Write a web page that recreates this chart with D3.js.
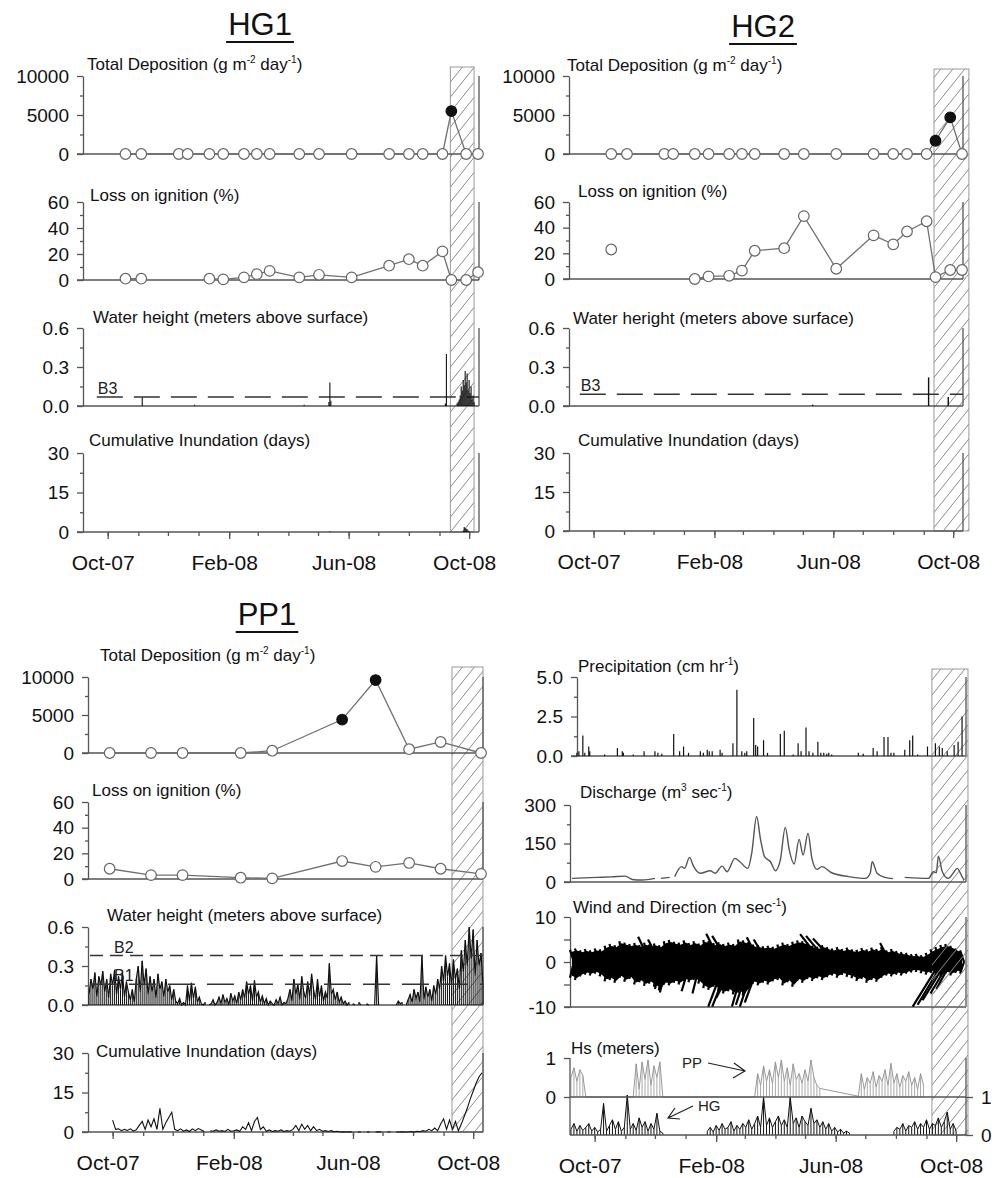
<!DOCTYPE html>
<html>
<head>
<meta charset="utf-8">
<script src="https://cdn.jsdelivr.net/npm/d3@7"></script>
<style>
body { margin: 0; background: #fff; }
svg { font-family: "Liberation Sans", Arial, Helvetica, sans-serif; }
</style>
</head>
<body>
<svg id="svg" width="1002" height="1178"></svg>
<script>
// Record runs from 6 Sep 2007 to 11 Oct 2008, dense series are given as days since START
const START = new Date(2007, 8, 6);
const END = new Date(2008, 9, 11);

// Sediment trap sampling (HG sites)
const hgSampleDates = ['2007-10-19', '2007-11-04', '2007-12-12', '2007-12-21', '2008-01-12', '2008-01-26',
  '2008-02-16', '2008-02-29', '2008-03-13', '2008-04-12', '2008-05-02', '2008-06-04', '2008-07-12',
  '2008-08-01', '2008-08-15', '2008-09-04', '2008-09-13', '2008-09-28', '2008-10-10'];
const hg1Deposition = [0, 0, 0, 0, 0, 0, 0, 0, 0, 0, 0, 0, 0, 0, 0, 0, 5500, 0, 0];
const hg1Loi = [1, 1, null, null, 1, 0.5, 2, 4.5, 7, 2, 4, 2, 11, 16, 11, 22, 0, 0, 6];
const hg1Event = [16];
const hg2Deposition = [0, 0, 0, 0, 0, 0, 0, 0, 0, 0, 0, 0, 0, 0, 0, 0, 1700, 4700, 0];
const hg2Loi = [23, null, null, null, 0, 2, 2.5, 6.5, 22, 24, 49, 8, 34, 27, 37, 45, 1.5, 7, 7];
const hg2Event = [16, 17];

// PP1 sampling
const ppSampleDates = ['2007-09-28', '2007-11-09', '2007-12-11', '2008-02-08', '2008-03-11',
  '2008-05-21', '2008-06-24', '2008-07-28', '2008-08-29', '2008-10-09'];
const pp1Deposition = [0, 0, 0, 0, 300, 4400, 9600, 500, 1450, 0];
const pp1Loi = [8, 3, 3, 1, 0.5, 14, 9.5, 12.5, 8, 4];
const pp1Event = [5, 6];

// benchmark elevations (m)
const hg1Bench = [{name: 'B3', value: 0.07, dash: '26,11'}];
const hg2Bench = [{name: 'B3', value: 0.09, dash: '26,11'}];
const pp1Bench = [{name: 'B2', value: 0.38, dash: '13,7'}, {name: 'B1', value: 0.16, dash: '27,12'}];

// sparse water height / inundation at HG
const hg1WaterDay = [60, 113, 224, 249, 250, 251, 367, 368, 379, 380, 381, 382, 383, 384, 385, 386, 387,
  388, 389, 390, 391, 392, 393, 394, 395, 396];
const hg1WaterVal = [0.065, 0.01, 0.01, 0.03, 0.18, 0.04, 0.02, 0.40, 0.02, 0.03, 0.05, 0.08, 0.15, 0.12,
  0.2, 0.16, 0.27, 0.18, 0.25, 0.12, 0.2, 0.1, 0.15, 0.05, 0.08, 0.03];
const hg1InundDay = [250, 385, 386, 387, 388, 389, 390, 391];
const hg1InundVal = [0.3, 0.5, 1.9, 1.5, 1.2, 1.0, 0.6, 0.3];
const hg2WaterDay = [248, 366, 386];
const hg2WaterVal = [0.01, 0.22, 0.07];

// PP1 water height, every 2 days from day 1
const pp1Water = [0.08, 0.2, 0.12, 0.25, 0.06, 0.22, 0.15, 0.26, 0.1,
  0.2, 0.05, 0.24, 0.15, 0.27, 0.08, 0.22, 0.12, 0.25, 0.06, 0.18, 0.1,
  0.04, 0.12, 0.02,
  0.2, 0.3, 0.1, 0.34, 0.15, 0.28, 0.08,
  0.22, 0.1, 0.2, 0.05, 0.24, 0.12, 0.18, 0.06, 0.2, 0.1, 0.15, 0.04, 0.12, 0.03,
  0.01, 0.05, 0.0, 0.02, 0.0,
  0.15, 0.03, 0.17, 0.05, 0.14, 0.02, 0.06,
  0.01, 0.0, 0.02, null, 0.0, 0.01, 0.04, 0.0, 0.02,
  0.06, 0.01, 0.08, 0.02, 0.05, 0.0, 0.09, 0.03, 0.07, 0.01, 0.1, 0.04, 0.12,
  0.05, 0.18, 0.08, 0.15, 0.03, 0.19, 0.06, 0.1,
  0.02, 0.07, 0.01, 0.05, 0.0, 0.03, 0.01, 0.0, 0.04, 0.01, 0.06, 0.0, 0.02, 0.01, 0.05,
  0.12, 0.03, 0.2, 0.08, 0.16, 0.04, 0.22, 0.1, 0.05, 0.18, 0.07, 0.24, 0.12, 0.04, 0.2, 0.06, 0.15, 0.03, 0.1,
  0.05, 0.32, 0.08, 0.12, 0.04, 0.1, 0.02, 0.06, 0.01, 0.03,
  0.0, 0.02, null, 0.01, 0.0, null, 0.02, 0.0, null, null, 0.01, 0.0, null, null,
  0.0, 0.38, 0.0,
  null, null, null, null, null, null, null, null,
  0.0, 0.03, 0.01, 0.02, null, 0.0, 0.04,
  0.08, 0.02, 0.12, 0.05, 0.1, 0.02, 0.38, 0.04,
  0.14, 0.06, 0.12, 0.03, 0.15, 0.08, 0.2, 0.12,
  0.3, 0.18, 0.38, 0.22, 0.32, 0.15,
  0.35, 0.2, 0.28, 0.12, 0.42, 0.25, 0.5, 0.3, 0.6, 0.35, 0.58, 0.22, 0.5, 0.3, 0.4, 0.15];

// PP1 cumulative inundation, every 3 days from day 1
const pp1Inund = [null, null, null, null, null, null, null, null,
  4.5, 1, 1.2, 0.5, 1, 0.6, 1.2, 0.4, 0.8, 2.5, 4, 1, 4.5, 2, 5, 1, 9, 1, 3.5, 5.5, 7.5, 1,
  0.5, 1.2, 0.3, 0.8, 0.2, 1.2, 0.5, 1.3, 0.8, 0.2,
  null, 0.5, 0.3, 0.8, 0.3, 0.5, 0.2, 1, 0.3, 0.5, 0.8, 0.3,
  2, 1, 3.5, 0.5, 4, 5.5, 1, 2, 0.3, 0.8, 0.2,
  0.5, 0.3, 0.8, 0.2, 0.5, 0.3, 1, 2.5, 0.5, 3, 1, 2.5, 0.5, 2, 0.5, 1, 0.3, 0.5, 0.2, 0.5, 0.1, 0.3,
  0, 0.1, 0, 0.1, 0, null, 0, 0, null, 0, 0, null, 0, 0.1, 0, null, 0, 0.1, null, 0, 0, 0.1, 0, 0, 0.2, 0, 0.3, 0.1,
  0.5, 0.3, 1, 0.5, 1.5, 0.5, 3, 5, 1, 4.5, 1, 4, 0.5, 3, 6, 9, 12.5, 15.5, 18.5, 21, 22.5];

// Precipitation bars
const precipDay = [7, 9, 13, 15, 19, 20, 35, 48, 53, 54, 64, 75, 86, 89, 93, 105, 111, 115, 120, 132, 135,
  139, 141, 144, 152, 154, 165, 169, 174, 177, 179, 186, 188, 190, 196, 200, 213, 217, 226, 231, 234,
  239, 242, 246, 251, 254, 257, 260, 262, 265, 292, 297, 307, 311, 318, 322, 325, 328, 339, 344, 347,
  352, 362, 370, 374, 377, 382, 389, 393, 397];
const precipVal = [0.2, 0.3, 1.3, 0.2, 0.6, 0.3, 0.1, 0.5, 0.3, 0.2, 0.1, 0.3, 0.3, 0.2, 0.15, 1.4, 0.3, 0.6,
  0.2, 0.3, 0.2, 0.4, 0.3, 0.3, 0.4, 0.2, 0.8, 4.2, 0.3, 0.2, 0.3, 2.4, 0.7, 0.6, 1.0, 0.2, 1.4, 1.6, 0.1,
  0.8, 0.3, 1.8, 0.3, 0.2, 0.9, 0.2, 0.2, 0.15, 0.2, 0.1, 0.2, 0.15, 0.5, 0.3, 1.2, 1.2, 0.2, 0.2, 0.4,
  1.0, 1.3, 0.1, 0.6, 0.8, 0.6, 0.5, 0.3, 0.7, 0.9, 2.5];

// Discharge
const dischargeDay = [2, 15, 28, 42, 56, 63, 73, 86, 89, 92, 101, 104, 106, 113, 116, 121, 125, 132, 142,
  147, 154, 159, 167, 172, 180, 184, 189, 193, 197, 203, 208, 213, 218, 222, 227, 232, 236, 241, 245,
  250, 255, 265, 282, 299, 304, 306, 311, 319, 327, 333, 339, 363, 368, 371, 373, 377, 383, 388, 392,
  397, 399];
const dischargeVal = [14, 16, 18, 20, 23, 10, 8, 14, null, 14, 18, null, 21, 60, 53, 96, 62, 34, 44, 34,
  62, 40, 92, 79, 53, 112, 255, 164, 99, 79, 44, 86, 213, 125, 70, 166, 105, 190, 92, 49, 60, 36, 21,
  14, 34, 79, 34, 18, 13, null, 18, 14, 40, 36, 101, 40, 14, 34, 53, 21, 8];

// Wind envelope, every 5 days from day 2
const windHi = [2.7, 3.0, 2.6, 2.9, 2.6, 3.0, 2.8, 3.6, 4.0, 3.7,
  4.6, 4.3, 4.0, 4.2, 3.8, 4.3, 3.9, 4.1, 3.7, 4.6,
  4.9, 4.5, 4.3, 4.8, 4.2, 4.6, 4.1, 4.9, 4.6, 4.2,
  4.4, 4.0, 4.3, 4.0, 5.0, 4.8, 4.4, 3.9, 3.7, 3.5,
  3.6, 3.4, 3.9, 4.3, 4.0, 4.5, 4.8, 4.6, 4.2, 3.6,
  3.4, 3.7, 3.3, 3.0, 3.3, 2.9, 3.2, 2.8, 2.7, 3.1,
  2.8, 3.2, 2.9, 3.3, 2.6, 2.9, 2.4, 2.2, 2.0, 1.7,
  1.8, 1.5, 2.0, 2.8, 3.3, 3.8, 4.0, 3.6, 3.0, 2.6];
const windLo = [-3.5, -4.0, -3.2, -2.8, -3.0, -2.6, -3.2, -4.3, -4.0, -4.6,
  -3.5, -4.4, -3.8, -5.0, -4.5, -5.3, -4.8, -5.5, -6.3, -5.0,
  -5.2, -4.6, -5.0, -4.2, -4.5, -4.0, -4.8, -5.8, -6.2, -5.5,
  -6.6, -7.0, -6.5, -7.2, -6.8, -7.5, -6.0, -4.8, -5.2, -4.6,
  -5.0, -4.3, -4.0, -5.2, -4.5, -5.5, -4.2, -4.6, -3.8, -4.2,
  -3.6, -4.0, -3.4, -3.0, -3.5, -2.9, -3.3, -3.6, -4.2, -3.8,
  -4.6, -4.0, -4.4, -3.5, -3.0, -3.2, -2.8, -3.0, -2.6, -2.3,
  -2.2, -2.5, -2.8, -2.4, -2.8, -3.2, -2.6, -3.0, -2.4, -2.6];
// strong wind vectors: [day, lag in days of the stick tip, speed]
const windGusts = [[157, -17, -9.9], [162, -18, -9.9], [167, -19, -8], [177, -13, -9.9], [182, -14, -9.5],
  [187, -15, -9.9], [192, -15, -9], [93, -7, -6], [99, -8, -6.8], [122, -9, -6.5], [132, -8, -7],
  [375, -28, -9.9], [378, -26, -9.5], [381, -24, -8.5], [384, -19, -7], [386, -15, -6],
  [81, -12, 5.6], [91, -12, 5], [152, -14, 6.3], [160, -16, 5.8], [192, -13, 5.5], [200, -14, 5],
  [255, -22, 6.2], [261, -22, 5.8], [268, -22, 5.2], [324, -10, 4.2]];

// Significant wave height, every 3 days from day 1
const hsPP = [0.5, 0.75, 0.4, 0.7, 0.55, 0.0,
  null, null, null, null, null, null, null, null, null, null, null, null, null, null, null,
  0.0, 0.85, 0.2, 0.9, 0.45, 0.95, 0.3, 0.8, 0.5, 0.9, 0.0,
  null, null, null, null, null, null, null, null, null, null, null, null, null, null, null,
  null, null, null, null, null, null, null, null, null, null, null, null, null, null, null,
  0.0, 0.6, 0.3, 0.8, 0.4, 0.7, 0.35, 0.9, 0.5, 0.95, 0.4, 0.75, 0.3, 0.85, 0.45, 0.6, 0.35, 0.7, 0.4, 0.95, 0.5, 0.3, 0.22,
  null, null, null, null, null, null, null, null, null, null, null, null,
  0.02, 0.6, 0.2, 0.5, 0.35, 0.65, 0.25, 0.55, 0.4, 0.7, 0.3, 0.86, 0.35, 0.6, 0.25, 0.55, 0.4, 0.65, 0.3, 0.5, 0.2, 0.6, 0.3,
  null, null, null, null, null, null, null, null, null, null, null, null, null, null];
const hsHG = [0.15, 0.3, 0.1, 0.25, 0.12, 0.2, 0.3, 0.1, 0.2, 0.08, 0.15, 0.83, 0.1, 0.25, 0.4, 0.15,
  0.35, 0.1, 0.2, 1.05, 0.15, 0.3, 0.12, 0.45, 0.2, 0.35, 0.1, 0.3, 0.15, 0.57, 0.1, 0.05,
  null, null, null, null, null, null, null, null, null, null, null, null, null, null,
  0.1, 0.2, 0.08, 0.25, 0.12, 0.3, 0.15, 0.2, 0.35, 0.1, 0.25, 0.15, 0.3, 0.2, 0.4, 0.15, 0.3, 0.5, 0.2, 1.0,
  0.25, 0.45, 0.2, 0.35, 0.5, 0.25, 0.4, 0.2, 1.0, 0.3, 0.45, 0.2, 0.5, 0.35, 0.25, 0.7, 0.3, 0.4, 0.2, 0.35,
  0.15, 0.3, 0.1, 0.2, 0.08, 0.15, 0.05, 0.1, 0.05,
  null, null, null, null, null, null, null, null, null, null, null, null, null, null,
  0.1, 0.2, 0.15, 0.3, 0.1, 0.25, 0.2, 0.35, 0.15, 0.3, 0.2, 0.4, 0.15, 0.3, 0.25, 0.45, 0.2, 0.35, 0.6, 0.15, 0.3, 0.1,
  null, null, null];

// storm period shaded on each figure (days since START)
const hg1Storm = [372, 396];
const hg2Storm = [371.5, 407];
const pp1Storm = [369.5, 401];
const metStorm = [366.5, 403];

const monthTicks = d3.timeMonth.range(START, END);
const labelMonths = [new Date(2007, 9, 1), new Date(2008, 1, 1), new Date(2008, 5, 1), new Date(2008, 9, 1)];

// ---------- drawing ----------
const svg = d3.select('#svg');
const AXIS = '#555';
const parse = d3.timeParse('%Y-%m-%d');
const dayToDate = d => new Date(START.getTime() + d * 864e5);

const pat = svg.append('defs').append('pattern')
  .attr('id', 'hatch').attr('patternUnits', 'userSpaceOnUse')
  .attr('width', 12).attr('height', 15);
pat.append('path')
  .attr('d', 'M0,15 L12,0 M-1,1.25 L1,-1.25 M11,16.25 L13,13.75')
  .attr('stroke', '#8c8c8c').attr('stroke-width', 1);

function xScale(x0, w) {
  return d3.scaleTime().domain([START, END]).range([x0, x0 + w]);
}

function addLabel(g, x, y, parts, size) {
  const t = g.append('text').attr('x', x).attr('y', y)
    .attr('font-size', size || 17).attr('fill', '#111');
  let raised = false;
  parts.forEach(s => {
    const sup = s[0] === '^';
    const ts = t.append('tspan').text(sup ? s.slice(1) : s);
    if (sup) {
      ts.attr('font-size', 10).attr('dy', raised ? 0 : -7);
      raised = true;
    } else {
      if (raised) ts.attr('dy', 7);
      raised = false;
    }
  });
}

function siteTitle(cx, y, text) {
  const t = svg.append('text').attr('x', cx).attr('y', y)
    .attr('text-anchor', 'middle').attr('font-size', 31).attr('fill', '#111').text(text);
  const w = t.node().getComputedTextLength();
  svg.append('line').attr('x1', cx - w / 2 - 2).attr('x2', cx + w / 2 + 2)
    .attr('y1', y + 7).attr('y2', y + 7).attr('stroke', '#111').attr('stroke-width', 2);
}

function styleAxis(a) {
  a.selectAll('path').attr('stroke', AXIS).attr('stroke-width', 1.3);
  a.selectAll('line').attr('stroke', AXIS).attr('stroke-width', 1.3);
  a.selectAll('text').attr('font-size', 19).attr('fill', '#111')
    .attr('font-family', '"Liberation Sans", Arial, sans-serif');
}

function panel(g, x, p) {
  const y = d3.scaleLinear().domain(p.domain).range([p.bottom, p.top]);
  const ax = p.axisX;
  const right = x.range()[1];
  const base = p.domain[0];
  g.append('line').attr('x1', ax - 6).attr('x2', right)
    .attr('y1', y(base)).attr('y2', y(base)).attr('stroke', AXIS).attr('stroke-width', 1.3);
  g.append('line').attr('x1', right).attr('x2', right)
    .attr('y1', y(p.domain[1])).attr('y2', y(base)).attr('stroke', AXIS).attr('stroke-width', 1.3);
  const a = g.append('g').attr('transform', `translate(${ax},0)`)
    .call(d3.axisLeft(y).tickValues(p.major).tickFormat(p.fmt).tickSize(6).tickSizeOuter(0).tickPadding(8));
  styleAxis(a);
  if (p.minor) {
    const m = g.append('g').attr('transform', `translate(${ax},0)`)
      .call(d3.axisLeft(y).tickValues(p.minor).tickFormat('').tickSize(p.minorSize || 3).tickSizeOuter(0));
    styleAxis(m);
    m.select('path').remove();
  }
  addLabel(g, p.labelX, p.labelY, p.label);
  return y;
}

function timeAxis(g, x, y0) {
  const minor = g.append('g').attr('transform', `translate(0,${y0})`)
    .call(d3.axisBottom(x).tickValues(monthTicks).tickFormat('').tickSize(4).tickSizeOuter(0));
  styleAxis(minor);
  minor.select('path').remove();
  const major = g.append('g').attr('transform', `translate(0,${y0})`)
    .call(d3.axisBottom(x).tickValues(labelMonths).tickFormat(d3.timeFormat('%b-%y')).tickSize(7).tickSizeOuter(0).tickPadding(16));
  styleAxis(major);
  major.select('path').remove();
  major.selectAll('text').attr('font-size', 21).attr('dx', -5);
}

function stormBox(g, x, storm, top, bottom, fillOnly) {
  const x1 = x(dayToDate(storm[0])), x2 = x(dayToDate(storm[1]));
  g.append('rect').attr('x', x1).attr('y', top).attr('width', x2 - x1).attr('height', bottom - top)
    .attr('fill', 'url(#hatch)').attr('stroke', fillOnly ? 'none' : '#999').attr('stroke-width', 1);
}

function sampleSeries(g, x, y, dates, values, events) {
  const pts = dates.map((d, i) => ({date: parse(d), v: values[i], ev: events.indexOf(i) >= 0}));
  const line = d3.line().defined(d => d.v != null).x(d => x(d.date)).y(d => y(d.v));
  g.append('path').datum(pts).attr('d', line)
    .attr('fill', 'none').attr('stroke', '#707070').attr('stroke-width', 1.3);
  g.selectAll(null).data(pts.filter(d => d.v != null)).enter().append('circle')
    .attr('cx', d => x(d.date)).attr('cy', d => y(d.v)).attr('r', 5.3)
    .attr('fill', d => d.ev ? '#111' : '#fff')
    .attr('stroke', d => d.ev ? '#111' : '#666').attr('stroke-width', 1.2);
}

function sticks(g, x, y, days, vals, width) {
  g.selectAll(null).data(days.map((d, i) => [d, vals[i]])).enter().append('line')
    .attr('x1', d => x(dayToDate(d[0]))).attr('x2', d => x(dayToDate(d[0])))
    .attr('y1', y(0)).attr('y2', d => y(d[1]))
    .attr('stroke', '#111').attr('stroke-width', width || 1.3);
}

// regular series; opts.sticks also drops a thin line from each reading to zero
function regular(g, x, y, startDay, step, values, color, opts) {
  opts = opts || {};
  let pts = values.map((v, i) => ({date: dayToDate(startDay + step * i), v: v}));
  if (opts.bridge) pts = pts.filter(d => d.v != null);
  if (opts.sticks) {
    g.selectAll(null).data(pts.filter(d => d.v != null)).enter().append('line')
      .attr('x1', d => x(d.date)).attr('x2', d => x(d.date))
      .attr('y1', y(0)).attr('y2', d => y(d.v))
      .attr('stroke', opts.sticks).attr('stroke-width', 1);
  }
  const line = d3.line().defined(d => d.v != null).x(d => x(d.date)).y(d => y(d.v));
  g.append('path').datum(pts).attr('d', line)
    .attr('fill', 'none').attr('stroke', color).attr('stroke-width', opts.width || 1);
}

function benches(g, x, y, list, startDay, labelDx) {
  list.forEach(b => {
    const xs = x(dayToDate(startDay));
    g.append('line').attr('x1', xs).attr('x2', x.range()[1])
      .attr('y1', y(b.value)).attr('y2', y(b.value))
      .attr('stroke', '#333').attr('stroke-width', 1.5).attr('stroke-dasharray', b.dash);
    g.append('text').attr('x', xs + (labelDx || 0)).attr('y', y(b.value) - 3)
      .attr('font-size', 16).attr('fill', '#222').text(b.name);
  });
}

const depLabel = ['Total Deposition (g m', '^-2', ' day', '^-1', ')'];
const dep = {domain: [0, 10000], major: [0, 5000, 10000], minor: [2500, 7500], fmt: d3.format('d'), label: depLabel};
const loi = {domain: [0, 60], major: [0, 20, 40, 60], minor: [10, 30, 50], fmt: d3.format('d'), label: ['Loss on ignition (%)']};
const wh = {domain: [0, 0.6], major: [0, 0.3, 0.6], minor: [0.15, 0.45], fmt: d3.format('.1f')};
const ci = {domain: [0, 30], major: [0, 15, 30], minor: [7.5, 22.5], fmt: d3.format('d'), label: ['Cumulative Inundation (days)']};

// ---- HG1 ----
(function() {
  const g = svg.append('g');
  const x = xScale(83, 396);
  siteTitle(260, 35, 'HG1');
  stormBox(g, x, hg1Storm, 67, 532);
  const yD = panel(g, x, Object.assign({}, dep, {top: 76, bottom: 154, axisX: 83, labelX: 87, labelY: 70}));
  const yL = panel(g, x, Object.assign({}, loi, {top: 202, bottom: 280, axisX: 83, labelX: 90, labelY: 201}));
  const yW = panel(g, x, Object.assign({}, wh, {top: 328, bottom: 406, axisX: 83, labelX: 93, labelY: 323,
    label: ['Water height (meters above surface)']}));
  const yC = panel(g, x, Object.assign({}, ci, {top: 453, bottom: 532, axisX: 83, labelX: 89, labelY: 446}));
  timeAxis(g, x, 532);
  benches(g, x, yW, hg1Bench, 14, 1);
  sticks(g, x, yW, hg1WaterDay, hg1WaterVal, 1.1);
  sticks(g, x, yC, hg1InundDay, hg1InundVal, 1.1);
  sampleSeries(g, x, yD, hgSampleDates, hg1Deposition, hg1Event);
  sampleSeries(g, x, yL, hgSampleDates, hg1Loi, []);
})();

// ---- HG2 ----
(function() {
  const g = svg.append('g');
  const x = xScale(569, 394);
  siteTitle(763, 37, 'HG2');
  stormBox(g, x, hg2Storm, 69, 531);
  const yD = panel(g, x, Object.assign({}, dep, {top: 76, bottom: 154, axisX: 569, labelX: 567, labelY: 71}));
  const yL = panel(g, x, Object.assign({}, loi, {top: 202, bottom: 279, axisX: 569, labelX: 578, labelY: 197}));
  const yW = panel(g, x, Object.assign({}, wh, {top: 328, bottom: 406, axisX: 569, labelX: 573, labelY: 324,
    label: ['Water heright (meters above surface)']}));
  panel(g, x, Object.assign({}, ci, {top: 453, bottom: 531, axisX: 569, labelX: 578, labelY: 446}));
  timeAxis(g, x, 531);
  benches(g, x, yW, hg2Bench, 11, 1);
  sticks(g, x, yW, hg2WaterDay, hg2WaterVal, 1.4);
  sampleSeries(g, x, yD, hgSampleDates, hg2Deposition, hg2Event);
  sampleSeries(g, x, yL, hgSampleDates, hg2Loi, []);
})();

// ---- PP1 ----
(function() {
  const g = svg.append('g');
  const x = xScale(88, 395);
  siteTitle(267, 625, 'PP1');
  stormBox(g, x, pp1Storm, 667, 1132);
  const yD = panel(g, x, Object.assign({}, dep, {top: 677, bottom: 753, axisX: 88, labelX: 100, labelY: 661}));
  const yL = panel(g, x, Object.assign({}, loi, {top: 802, bottom: 879, axisX: 88, labelX: 92, labelY: 796}));
  const yW = panel(g, x, Object.assign({}, wh, {top: 927, bottom: 1005, axisX: 88, labelX: 107, labelY: 921,
    label: ['Water height (meters above surface)']}));
  const yC = panel(g, x, Object.assign({}, ci, {top: 1053, bottom: 1132, axisX: 88, labelX: 96, labelY: 1057}));
  timeAxis(g, x, 1132);
  regular(g, x, yW, 1, 2, pp1Water, '#111', {sticks: '#111', width: 1.2});
  benches(g, x, yW, pp1Bench, 2, 24);
  regular(g, x, yC, 1, 3, pp1Inund, '#111', {width: 1.1});
  sampleSeries(g, x, yD, ppSampleDates, pp1Deposition, pp1Event);
  sampleSeries(g, x, yL, ppSampleDates, pp1Loi, []);
})();

// ---- meteorology / hydrology ----
(function() {
  const g = svg.append('g');
  const x = xScale(570, 396);
  stormBox(g, x, metStorm, 669, 1135);

  const yP = panel(g, x, {domain: [0, 5], major: [0, 2.5, 5], minor: [1.25, 3.75], fmt: d3.format('.1f'),
    top: 677, bottom: 756, axisX: 577, labelX: 578, labelY: 672, label: ['Precipitation (cm hr', '^-1', ')']});
  sticks(g, x, yP, precipDay, precipVal, 1.2);

  const yQ = panel(g, x, {domain: [0, 300], major: [0, 150, 300], minor: [75, 225], fmt: d3.format('d'),
    top: 805, bottom: 882, axisX: 570, labelX: 580, labelY: 798, label: ['Discharge (m', '^3', ' sec', '^-1', ')']});
  const q = dischargeDay.map((d, i) => ({date: dayToDate(d), v: dischargeVal[i]}));
  g.append('path').datum(q)
    .attr('d', d3.line().defined(d => d.v != null).curve(d3.curveMonotoneX).x(d => x(d.date)).y(d => yQ(d.v)))
    .attr('fill', 'none').attr('stroke', '#555').attr('stroke-width', 1.4);

  const yWd = panel(g, x, {domain: [-10, 10], major: [-10, 0, 10], minor: [-5, 5], minorSize: 6,
    fmt: d => d < 0 ? '-' + (-d) : String(d),
    top: 917, bottom: 1007, axisX: 570, labelX: 573, labelY: 913, label: ['Wind and Direction (m sec', '^-1', ')']});
  const band = windHi.map((h, i) => ({day: 2 + 5 * i, hi: h, lo: windLo[i]}));
  g.append('path').datum(band)
    .attr('d', d3.area().x(d => x(dayToDate(d.day))).y0(d => yWd(d.lo) - 2).y1(d => yWd(d.hi) + 2))
    .attr('fill', '#000');
  // each envelope reading drawn as a wind stick, tips lean west like the gusts
  const bandSticks = [];
  band.forEach(d => { bandSticks.push([d.day + 2, -4, d.hi]); bandSticks.push([d.day + 2, -4, d.lo]); });
  g.selectAll(null).data(bandSticks.concat(windGusts)).enter().append('line')
    .attr('x1', d => x(dayToDate(d[0]))).attr('y1', yWd(0))
    .attr('x2', d => x(dayToDate(d[0] + d[1]))).attr('y2', d => yWd(d[2]))
    .attr('stroke', '#000').attr('stroke-width', 2.2);
  // hatch shows through the dense wind trace
  stormBox(g, x, metStorm, 917, 1007, true);

  // wave height: PP on upper half, HG on lower half
  const right = x.range()[1];
  const yPP = d3.scaleLinear().domain([0, 1]).range([1097, 1058]);
  const yHG = d3.scaleLinear().domain([0, 1]).range([1135, 1097]);
  regular(g, x, yPP, 1, 3, hsPP, '#999', {bridge: true, sticks: '#aaa'});
  regular(g, x, yHG, 1, 3, hsHG, '#111', {sticks: '#111'});
  [1097, 1135].forEach(v => g.append('line').attr('x1', 570).attr('x2', right)
    .attr('y1', v).attr('y2', v).attr('stroke', AXIS).attr('stroke-width', 1.3));
  g.append('line').attr('x1', 570).attr('x2', 570).attr('y1', 1058).attr('y2', 1135)
    .attr('stroke', AXIS).attr('stroke-width', 1.3);
  g.append('line').attr('x1', right).attr('x2', right).attr('y1', 1058).attr('y2', 1135)
    .attr('stroke', AXIS).attr('stroke-width', 1.3);
  const la = g.append('g').attr('transform', 'translate(570,0)')
    .call(d3.axisLeft(yPP).tickValues([0, 1]).tickFormat(d3.format('d')).tickSize(6).tickSizeOuter(0).tickPadding(8));
  styleAxis(la);
  la.select('path').remove();
  const ra = g.append('g').attr('transform', `translate(${right},0)`)
    .call(d3.axisRight(yHG).tickValues([0, 1]).tickFormat(d3.format('d')).tickSize(7).tickSizeOuter(0).tickPadding(8));
  styleAxis(ra);
  ra.select('path').remove();
  addLabel(g, 571, 1054, ['Hs (meters)']);

  g.append('text').attr('x', 682).attr('y', 1068).attr('font-size', 15).attr('fill', '#222').text('PP');
  g.append('text').attr('x', 698).attr('y', 1111).attr('font-size', 15).attr('fill', '#222').text('HG');
  g.append('path').attr('d', 'M708,1063 L745,1071 M734,1063 L745,1071 L733,1078')
    .attr('fill', 'none').attr('stroke', '#222').attr('stroke-width', 1.2);
  g.append('path').attr('d', 'M693,1106 L668,1118 M680,1119 L668,1118 L675,1108')
    .attr('fill', 'none').attr('stroke', '#222').attr('stroke-width', 1.2);

  timeAxis(g, x, 1135);
})();
</script>
</body>
</html>
